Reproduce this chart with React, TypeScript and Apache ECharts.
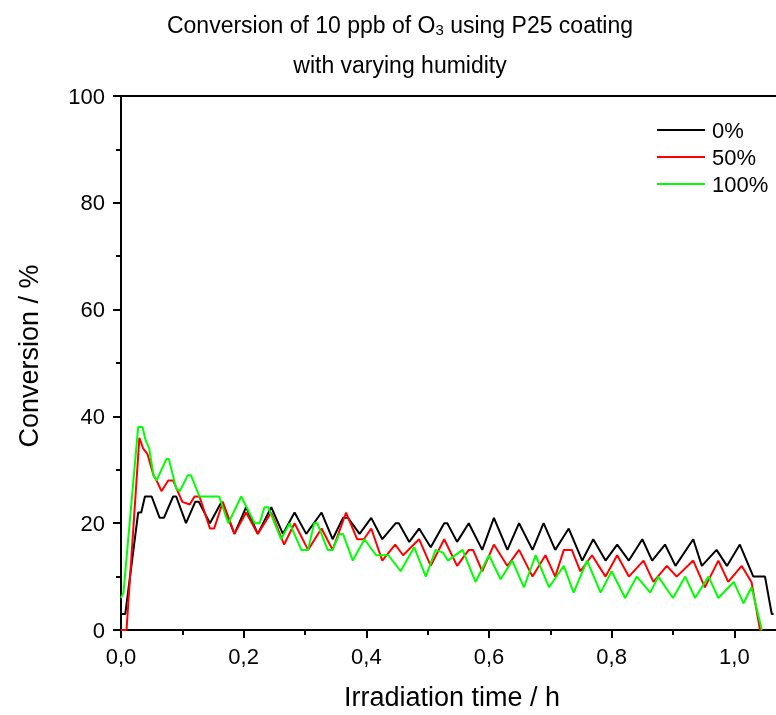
import { useEffect, useRef } from 'react';
import * as echarts from 'echarts';

const seriesNames = ['0%', '50%', '100%'];
const seriesColors = ['#000000', '#ff0000', '#00ff00'];

const xTickValues = [0, 0.2, 0.4, 0.6, 0.8, 1.0];
const yTickValues = [0, 20, 40, 60, 80, 100];

const time0 = [0, 0.007, 0.028, 0.033, 0.039, 0.05, 0.063, 0.07, 0.085, 0.09, 0.106, 0.121, 0.127, 0.145, 0.164, 0.185, 0.204, 0.223, 0.245, 0.264, 0.283, 0.302, 0.327, 0.345, 0.362, 0.37, 0.389, 0.408, 0.426, 0.448, 0.453, 0.47, 0.486, 0.505, 0.527, 0.532, 0.548, 0.567, 0.589, 0.608, 0.63, 0.649, 0.671, 0.689, 0.708, 0.73, 0.752, 0.77, 0.79, 0.809, 0.828, 0.85, 0.866, 0.887, 0.904, 0.933, 0.947, 0.971, 0.988, 1.009, 1.031, 1.05, 1.061, 1.064];
const conv0 = [3, 3, 22, 22, 25, 25, 21, 21, 25, 25, 20, 24, 24, 20, 24, 18, 23, 18, 23, 18, 22, 18, 22, 17, 21, 21, 18, 21, 17, 20, 20, 16.5, 19, 15.5, 20, 20, 16.5, 20, 15, 21, 15, 20, 15, 20, 15, 19, 13, 17, 13, 16, 13, 17, 13, 16, 12, 17, 12, 15, 12, 16, 10, 10, 3, 3];

const time50 = [0, 0.009, 0.03, 0.036, 0.043, 0.053, 0.058, 0.066, 0.077, 0.085, 0.1, 0.112, 0.12, 0.128, 0.145, 0.152, 0.166, 0.185, 0.204, 0.223, 0.245, 0.266, 0.283, 0.305, 0.327, 0.345, 0.367, 0.385, 0.396, 0.408, 0.426, 0.447, 0.46, 0.486, 0.505, 0.527, 0.548, 0.567, 0.574, 0.589, 0.608, 0.63, 0.649, 0.671, 0.692, 0.708, 0.722, 0.735, 0.749, 0.768, 0.79, 0.809, 0.828, 0.852, 0.868, 0.89, 0.906, 0.933, 0.952, 0.974, 0.99, 1.012, 1.028, 1.042, 1.045];
const conv50 = [0, 0, 36, 34, 33, 29, 28, 26, 28, 28, 24, 23.5, 25, 25, 19, 19, 24, 18, 22, 18, 22, 16, 20, 15, 19, 15, 22, 17, 17, 19, 13, 16, 14, 17, 12, 17, 12, 15, 15, 11, 16, 12, 15, 10, 14, 10, 15, 15, 11, 14, 10, 14, 10, 13, 9, 12, 10, 13, 8, 13, 9, 12, 9, 0, 0];

const time100 = [0, 0.004, 0.028, 0.035, 0.04, 0.046, 0.053, 0.058, 0.074, 0.078, 0.09, 0.096, 0.109, 0.114, 0.128, 0.16, 0.175, 0.196, 0.218, 0.226, 0.234, 0.24, 0.261, 0.275, 0.294, 0.305, 0.315, 0.32, 0.337, 0.345, 0.356, 0.362, 0.378, 0.397, 0.416, 0.436, 0.456, 0.478, 0.497, 0.513, 0.525, 0.533, 0.557, 0.578, 0.6, 0.619, 0.638, 0.657, 0.676, 0.698, 0.722, 0.738, 0.76, 0.782, 0.8, 0.822, 0.841, 0.863, 0.876, 0.9, 0.92, 0.936, 0.958, 0.974, 0.999, 1.015, 1.028, 1.045];
const conv100 = [6, 7, 38, 38, 35.6, 34, 29, 28, 32, 32, 26.5, 26, 29, 29, 25, 25, 20, 25, 20, 20, 23, 23, 17, 20, 15, 15, 20, 20, 15, 15, 18, 18, 13, 17, 14, 14, 11, 15.5, 10, 15, 14.5, 13, 15, 9, 14, 9.5, 13, 8, 14, 8, 12, 7, 13, 7, 11, 6, 10, 7, 10, 6, 10, 6, 10, 6, 9, 5, 8, 0];

const seriesTimes = [time0, time50, time100];
const seriesConv = [conv0, conv50, conv100];

const FONT = 'Liberation Sans, Arial, sans-serif';

export default function App() {
  const ref = useRef<HTMLDivElement>(null);

  useEffect(() => {
    document.body.style.margin = '0';
    document.body.style.overflow = 'hidden';
    if (!ref.current) return;
    const chart = echarts.init(ref.current, undefined, { renderer: 'svg' });

    const isTick = (v: number, list: number[]) => list.some((t) => Math.abs(t - v) < 1e-6);

    const axisLineStyle = { color: '#000', width: 2 };

    chart.setOption({
      animation: false,
      textStyle: { fontFamily: FONT, color: '#000' },
      grid: { left: 121, top: 96, width: 738, height: 534, containLabel: false },
      legend: {
        orient: 'vertical',
        left: 652,
        top: 114,
        itemWidth: 48,
        itemHeight: 2,
        itemGap: 5,
        icon: 'rect',
        data: seriesNames,
        textStyle: { fontSize: 22, color: '#000', fontFamily: FONT, padding: [0, 0, 0, 2] },
      },
      xAxis: [
        {
          type: 'value',
          min: 0,
          max: 1.2,
          interval: 0.2,
          position: 'bottom',
          axisLine: { show: true, onZero: false, lineStyle: axisLineStyle },
          axisTick: { show: true, length: 8, lineStyle: axisLineStyle },
          minorTick: { show: true, splitNumber: 2, length: 5, lineStyle: axisLineStyle },
          splitLine: { show: false },
          axisLabel: {
            fontSize: 22,
            color: '#000',
            margin: 15,
            fontFamily: FONT,
            formatter: (v: number) => (isTick(v, xTickValues) ? v.toFixed(1).replace('.', ',') : ''),
          },
        },
        {
          type: 'value',
          min: 0,
          max: 1.2,
          position: 'top',
          axisLine: { show: true, onZero: false, lineStyle: axisLineStyle },
          axisTick: { show: false },
          axisLabel: { show: false },
          splitLine: { show: false },
        },
      ],
      yAxis: {
        type: 'value',
        min: 0,
        max: 100,
        interval: 20,
        axisLine: { show: true, onZero: false, lineStyle: axisLineStyle },
        axisTick: { show: true, length: 8, lineStyle: axisLineStyle },
        minorTick: { show: true, splitNumber: 2, length: 5, lineStyle: axisLineStyle },
        splitLine: { show: false },
        axisLabel: {
          fontSize: 22,
          color: '#000',
          margin: 16,
          fontFamily: FONT,
          formatter: (v: number) => (isTick(v, yTickValues) ? String(v) : ''),
        },
      },
      graphic: [
        {
          type: 'text',
          x: 400,
          y: 25,
          style: {
            text: 'Conversion of 10 ppb of O{s|3} using P25 coating',
            fontSize: 23,
            fontFamily: FONT,
            fill: '#000',
            align: 'center',
            verticalAlign: 'middle',
            rich: {
              s: { fontSize: 15, lineHeight: 8, verticalAlign: 'bottom', fontFamily: FONT, fill: '#000' },
            },
          },
        },
        {
          type: 'text',
          x: 400,
          y: 65,
          style: {
            text: 'with varying humidity',
            fontSize: 23,
            fontFamily: FONT,
            fill: '#000',
            align: 'center',
            verticalAlign: 'middle',
          },
        },
        {
          type: 'text',
          x: 452,
          y: 697,
          style: {
            text: 'Irradiation time / h',
            fontSize: 27,
            fontFamily: FONT,
            fill: '#000',
            align: 'center',
            verticalAlign: 'middle',
          },
        },
        {
          type: 'text',
          x: 29,
          y: 356,
          rotation: Math.PI / 2,
          style: {
            text: 'Conversion / %',
            fontSize: 27,
            fontFamily: FONT,
            fill: '#000',
            align: 'center',
            verticalAlign: 'middle',
          },
        },
      ],
      series: seriesNames.map((name, i) => ({
        name,
        type: 'line',
        xAxisIndex: 0,
        yAxisIndex: 0,
        symbol: 'none',
        showSymbol: false,
        color: seriesColors[i],
        itemStyle: { color: seriesColors[i] },
        lineStyle: { color: seriesColors[i], width: 2 },
        data: seriesTimes[i].map((t, j) => [t, seriesConv[i][j]]),
      })),
    });

    return () => chart.dispose();
  }, []);

  return <div ref={ref} style={{ position: 'fixed', left: 0, top: 0, width: 860, height: 715 }} />;
}
